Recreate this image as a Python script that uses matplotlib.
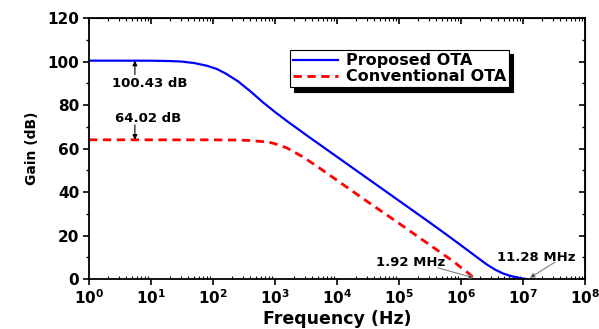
import matplotlib
matplotlib.use("Agg")
import matplotlib.pyplot as plt
from matplotlib.ticker import LogLocator, MultipleLocator, NullFormatter

plt.rcParams['font.family'] = ['DejaVu Sans']
plt.rcParams['font.weight'] = 'bold'
plt.rcParams['mathtext.default'] = 'bf'

# datos (Hz, dB)
freq_prop = [1, 10, 20, 31.6, 50.1, 79.4, 115, 158, 251, 398, 631, 1000, 1585,
             3162, 1e4, 3.162e4, 1e5, 3.162e5, 6.31e5, 1e6, 1.413e6, 2.0e6,
             2.57e6, 3.55e6, 4.79e6, 6.31e6, 8.91e6, 1.128e7]
gain_prop = [100.43, 100.4, 100.25, 100.0, 99.3, 98.1, 96.6, 94.6, 91.0, 86.4,
             81.4, 76.8, 72.5, 66.3, 56.2, 46.1, 36.0, 25.9, 19.7, 15.5, 12.3,
             9.1, 6.8, 4.3, 2.5, 1.4, 0.45, 0.0]

freq_conv = [1, 100, 251, 398, 631, 832, 1000, 1549, 2884, 5370, 1e4, 3.162e4,
             1e5, 3.162e5, 7.59e5, 1e6, 1.259e6, 1.7e6]
gain_conv = [64.02, 64.0, 63.9, 63.7, 63.2, 62.8, 62.2, 60.3, 56.0, 50.8, 45.4,
             35.4, 25.6, 15.6, 8.0, 5.3, 3.1, 0.0]

fig = plt.figure(figsize=(5.99, 3.29), dpi=100)
ax = fig.add_axes([0.1486, 0.152, 0.828, 0.793])

ax.plot(freq_prop, gain_prop, color='#0000ff', lw=1.6, label='Proposed OTA')
ax.plot(freq_conv, gain_conv, color='#ff0000', lw=2.0, ls=(0, (3, 2)),
        label='Conventional OTA')

ax.set_xscale('log')
ax.set_xlim(1, 1e8)
ax.set_ylim(0, 120)
ax.xaxis.set_major_locator(LogLocator(base=10, numticks=10))
ax.xaxis.set_minor_locator(LogLocator(base=10, subs=range(2, 10), numticks=100))
ax.xaxis.set_minor_formatter(NullFormatter())
ax.yaxis.set_major_locator(MultipleLocator(20))
ax.yaxis.set_minor_locator(MultipleLocator(10))

for s in ax.spines.values():
    s.set_linewidth(1.3)

ax.tick_params(axis='y', which='major', direction='out', length=4, width=1.2,
               labelsize=11, pad=3)
ax.tick_params(axis='y', which='minor', direction='out', length=2.5, width=1)
ax.tick_params(axis='x', which='major', direction='out', length=4, width=1.2,
               labelsize=11, pad=3)
ax.tick_params(axis='x', which='minor', direction='in', length=2.5, width=0.8)

top = ax.secondary_xaxis('top')
top.tick_params(which='major', direction='in', length=4, width=1.2, labeltop=False)
top.tick_params(which='minor', direction='in', length=2.5, width=0.8)
top.xaxis.set_major_formatter(NullFormatter())
top.xaxis.set_minor_formatter(NullFormatter())
right = ax.secondary_yaxis('right')
right.yaxis.set_major_locator(MultipleLocator(20))
right.yaxis.set_minor_locator(MultipleLocator(10))
right.tick_params(which='major', direction='in', length=4, width=1.2, labelright=False)
right.tick_params(which='minor', direction='in', length=2.5, width=1)

ax.set_xlabel('Frequency (Hz)', fontsize=12.5, fontweight='bold', labelpad=2)
ax.set_ylabel('Gain (dB)', fontsize=10, fontweight='bold', labelpad=6)

leg = ax.legend(loc='upper left', bbox_to_anchor=(0.405, 0.877), borderaxespad=0,
                fontsize=11.5, handlelength=2.8, handletextpad=0.5,
                labelspacing=0.05, borderpad=0.2, fancybox=False,
                shadow={'ox': 3, 'oy': -3, 'color': 'black', 'alpha': 1})
leg.get_frame().set_edgecolor('black')
leg.get_frame().set_linewidth(0.8)

# anotaciones
flecha = dict(arrowstyle='-|>', color='black', lw=0.8, mutation_scale=7,
              shrinkA=0, shrinkB=0)
ax.annotate('', xy=(5.5, 100.43), xytext=(5.5, 94.0), arrowprops=flecha)
ax.text(9.6, 90.1, '100.43 dB', fontsize=9.5, ha='center', va='center')
ax.annotate('', xy=(5.5, 64.02), xytext=(5.5, 70.8), arrowprops=flecha)
ax.text(8.9, 74.0, '64.02 dB', fontsize=9.5, ha='center', va='center')

flecha_gris = dict(arrowstyle='-|>', ec='gray', fc='black', lw=0.8,
                   mutation_scale=7, shrinkA=0, shrinkB=0)
ax.annotate('', xy=(1.62e6, 0.5), xytext=(4.26e5, 5.1), arrowprops=flecha_gris)
ax.text(1.56e5, 7.8, '1.92 MHz', fontsize=9.5, ha='center', va='center')
ax.annotate('', xy=(1.29e7, 0.5), xytext=(3.3e7, 7.8), arrowprops=flecha_gris)
ax.text(1.62e7, 9.7, '11.28 MHz', fontsize=9.5, ha='center', va='center')

fig.savefig('out.png', dpi=100)
